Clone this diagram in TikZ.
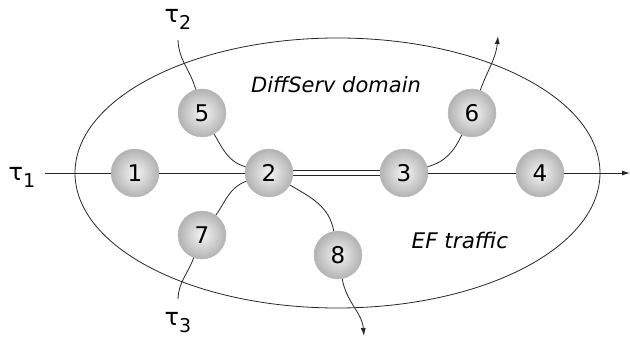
\documentclass[tikz,border=0pt]{standalone}
\usepackage{fontspec}
\setmainfont{DejaVu Sans}
\usetikzlibrary{arrows.meta}

\newcommand{\tauidx}[1]{{\fontsize{24}{26}\selectfont τ\raisebox{-7pt}{\fontsize{19}{21}\selectfont #1}}}

\begin{document}
\begin{tikzpicture}[x=1pt,y=1pt,
    router/.style={circle,minimum size=48pt,inner sep=0pt,draw=gray!55,
      inner color=gray!8,outer color=gray!60,
      font=\fontsize{23}{25}\selectfont},
    link/.style={draw=black!85,line width=0.8pt},
    outlink/.style={link,-{Latex[length=8pt,width=5pt]}},
    caption/.style={font=\fontsize{21}{25}\selectfont\itshape}]
  \useasboundingbox (0,0) rectangle (630,337);

  % domain
  \draw[black!85,line width=0.8pt] (337.5,164) ellipse [x radius=262.5,y radius=135];
  \node[caption] (dom) at (336,252) {DiffServ domain};
  \node[caption,font=\fontsize{21.5}{25}\selectfont\itshape] (ef) at (460,97) {EF traffic};

  % routers
  \node[router] (n1) at (135,164) {1};
  \node[router] (n2) at (269,164) {2};
  \node[router] (n3) at (404,164) {3};
  \node[router] (n4) at (540,164) {4};
  \node[router] (n5) at (202,224) {5};
  \node[router] (n6) at (472,224) {6};
  \node[router] (n7) at (202,102) {7};
  \node[router] (n8) at (338,82) {8};

  % end points
  \coordinate (in1) at (45,164);
  \coordinate (in2) at (178,297);
  \coordinate (in3) at (178,38);
  \coordinate (out4) at (630,164);
  \coordinate (out6) at (498,301);
  \coordinate (out8) at (364,1);
  \node (t1) at (22,160) {\tauidx{1}};
  \node (t2) at (178,318) {\tauidx{2}};
  \node (t3) at (178,14) {\tauidx{3}};

  % links
  \draw[link] (in1) -- (n1);
  \draw[link] (n1) -- (n2);
  \draw[link,double=white,double distance=3.5pt] (n2) -- (n3);
  \draw[link] (n3) -- (n4);
  \draw[outlink] (n4) -- (out4);
  \draw[link] (in2) to[out=-88,in=105] (n5);
  \draw[link] (n5) to[out=-60,in=165] (n2);
  \draw[link] (n2) to[out=200,in=55] (n7);
  \draw[link] (n7) to[out=-110,in=88] (in3);
  \draw[link] (n2) to[out=-30,in=100] (n8);
  \draw[outlink] (n8) to[out=-80,in=95] (out8);
  \draw[link] (n3) to[out=15,in=-115] (n6);
  \draw[outlink] (n6) to[out=70,in=-95] (out6);
\end{tikzpicture}
\end{document}
